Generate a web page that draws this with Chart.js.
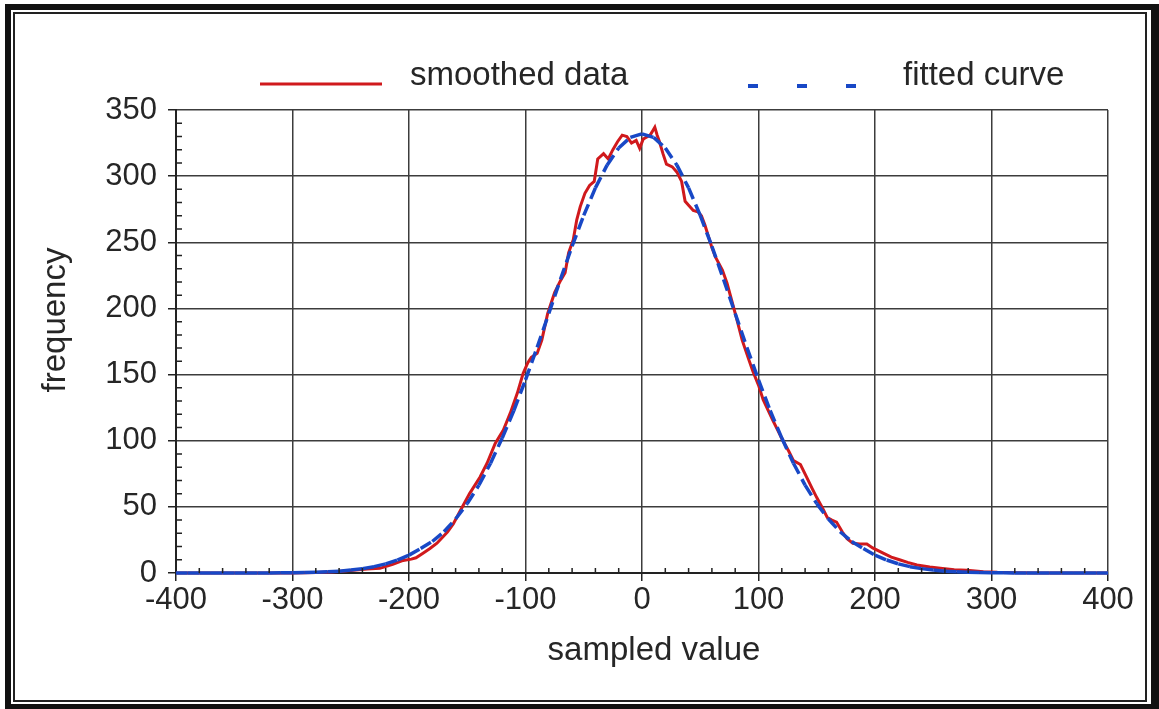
<!DOCTYPE html>
<html>
<head>
<meta charset="utf-8">
<title>frequency of sampled values</title>
<script src="https://cdn.jsdelivr.net/npm/chart.js@4.4.0/dist/chart.umd.min.js"></script>
<style>
  html, body { margin: 0; padding: 0; background: #fff; }
  #wrap { position: relative; width: 1159px; height: 709px; overflow: hidden; }
  #chart { position: absolute; left: 0; top: 0; }
  .frame { position: absolute; box-sizing: border-box; pointer-events: none; }
  #outer { left: 5px; top: 4px; width: 1154px; height: 705px; border: 6px solid #111; border-right-width: 8px; border-bottom-width: 5px; }
  #inner { left: 13px; top: 12px; width: 1134px; height: 690px; border: 2px solid #222; }
</style>
</head>
<body>
<div id="wrap">
  <canvas id="chart" width="1159" height="709"></canvas>
  <div class="frame" id="outer"></div>
  <div class="frame" id="inner"></div>
</div>
<script>
// smoothed histogram (irregular x where the wiggles are)
const smoothX = [-400, -300, -280, -266, -250, -236, -225, -214, -205, -198, -194, -188, -182, -176,
  -167, -162, -156, -148, -139, -133, -126, -119, -113, -107, -102, -98, -95, -90, -86, -81, -75,
  -70, -66, -63, -59, -56, -53, -49, -45, -41, -38, -33, -29, -25, -21, -17, -13, -9, -5, -2,
  1, 3, 7, 9, 11, 13, 15, 18, 21, 26, 30, 34, 37, 40, 44, 48, 51, 54, 60, 63, 69, 73, 77, 81,
  86, 91, 95, 100, 104, 112, 117, 121, 126, 130, 136, 141, 146, 150, 155, 159, 163, 167, 172,
  176, 181, 187, 193, 198, 207, 214, 221, 228, 236, 247, 258, 268, 279, 293, 305, 320, 340, 400];
const smoothY = [0, 0, 0.3, 0.8, 1.8, 3, 3.5, 6.5, 9.5, 10.5, 11.5, 15, 18.5, 22.5,
  31, 37, 47, 60, 72.6, 83, 98, 108, 121, 136, 151, 159, 163, 166, 176, 196, 212,
  221, 227, 242, 252, 267, 277, 287, 293, 296, 313, 317, 313, 320, 326, 331, 330, 325, 327, 321,
  328, 329, 331, 334, 337, 331, 326, 317, 309, 307, 303, 296, 281, 278, 274, 273, 270, 263, 246, 239, 229, 219, 206, 193,
  176, 163, 153, 142, 131, 116, 107, 100, 92, 85, 82, 73, 64, 57, 49, 42, 40, 38.5, 31,
  26, 22.5, 22, 22, 19, 15, 12, 10, 8, 6, 4.5, 3.5, 2.5, 2, 1, 0.5, 0.2, 0, 0];

// fitted normal curve, read every 10 from -400 to 400
const fitX = [];
for (let v = -400; v <= 400; v += 10) fitX.push(v);
const fitY = [
  0, 0, 0, 0, 0, 0, 0, 0, 0, 0.1,                               // -400 .. -310
  0.2, 0.3, 0.5, 0.9, 1.4, 2.2, 3.3, 4.8, 6.9, 9.8,             // -300 .. -210
  13.5, 18.5, 23.8, 31.2, 40.8, 52.4, 66.4, 83, 102, 122.8,     // -200 .. -110
  146, 170.6, 196.2, 222, 247, 270.3, 291.1, 308.3, 321.3, 329.3, // -100 .. -10
  332,                                                          // 0
  329.3, 321.3, 308.3, 291.1, 270.3, 247, 222, 196.2, 170.6, 146, // 10 .. 100
  122.8, 102, 83, 66.4, 52.4, 40.8, 31.2, 23.8, 18.5, 13.5,     // 110 .. 200
  9.8, 6.9, 4.8, 3.3, 2.2, 1.4, 0.9, 0.5, 0.3, 0.2,             // 210 .. 300
  0.1, 0, 0, 0, 0, 0, 0, 0, 0, 0                                // 310 .. 400
];

const xTicks = [-400, -300, -200, -100, 0, 100, 200, 300, 400];
const yTicks = [0, 50, 100, 150, 200, 250, 300, 350];

const seriesNames = ['smoothed data', 'fitted curve'];
const RED = '#d0191c';
const BLUE = '#1848c6';
const TEXT = '#262626';
const FONT = 'Liberation Sans, Arial, Helvetica, sans-serif';

const toPoints = (xs, ys) => xs.map((x, i) => ({ x: x, y: ys[i] }));

// minor ticks pointing into the plot, axis titles and the key row above
const extras = {
  id: 'extras',
  afterDraw(chart) {
    const ctx = chart.ctx;
    const xs = chart.scales.x, ys = chart.scales.y;
    const area = chart.chartArea;
    ctx.save();
    ctx.strokeStyle = '#222';
    ctx.lineWidth = 1.5;
    ctx.beginPath();
    for (let v = 10; v < 350; v += 10) {
      if (v % 50 === 0) continue;
      const py = ys.getPixelForValue(v);
      ctx.moveTo(area.left, py);
      ctx.lineTo(area.left + 6, py);
    }
    for (let v = -380; v < 400; v += 20) {
      if (v % 100 === 0) continue;
      const px = xs.getPixelForValue(v);
      ctx.moveTo(px, area.bottom);
      ctx.lineTo(px, area.bottom - 5);
    }
    ctx.stroke();

    ctx.fillStyle = TEXT;
    ctx.font = '33px ' + FONT;
    ctx.textAlign = 'center';
    ctx.textBaseline = 'alphabetic';
    ctx.fillText('sampled value', (area.left + area.right) / 2 + 12, 660);

    ctx.save();
    ctx.translate(65, 320);
    ctx.rotate(-Math.PI / 2);
    ctx.fillText('frequency', 0, 0);
    ctx.restore();

    // key
    ctx.textAlign = 'left';
    ctx.lineWidth = 3;
    ctx.strokeStyle = RED;
    ctx.beginPath();
    ctx.moveTo(260, 84);
    ctx.lineTo(382, 84);
    ctx.stroke();
    ctx.fillText(seriesNames[0], 410, 85);

    ctx.strokeStyle = BLUE;
    ctx.lineWidth = 4;
    ctx.beginPath();
    [748, 797, 846].forEach(x0 => {
      ctx.moveTo(x0, 86);
      ctx.lineTo(x0 + 10, 86);
    });
    ctx.stroke();
    ctx.fillText(seriesNames[1], 903, 85);
    ctx.restore();
  }
};

new Chart(document.getElementById('chart'), {
  type: 'scatter',
  data: {
    datasets: [
      {
        label: seriesNames[1],
        data: toPoints(fitX, fitY),
        showLine: true,
        borderColor: BLUE,
        borderWidth: 3.5,
        borderDash: [12, 6],
        // restart the dash on every segment: flat stretches stay solid
        segment: { borderDashOffset: c => (c.p0DataIndex % 2) * 0.01 },
        pointRadius: 0,
        tension: 0,
        clip: 6,
        order: 0
      },
      {
        label: seriesNames[0],
        data: toPoints(smoothX, smoothY),
        showLine: true,
        borderColor: RED,
        borderWidth: 3,
        pointRadius: 0,
        tension: 0,
        clip: 6,
        order: 1
      }
    ]
  },
  options: {
    responsive: false,
    animation: false,
    layout: { padding: { top: 110, right: 51, bottom: 0, left: 0 } },
    plugins: {
      legend: { display: false },
      tooltip: { enabled: false }
    },
    scales: {
      x: {
        type: 'linear',
        min: -400,
        max: 400,
        afterBuildTicks: s => { s.ticks = xTicks.map(v => ({ value: v })); },
        afterFit: s => { s.height = 136; },
        ticks: { font: { family: FONT, size: 31 }, color: TEXT, padding: 1, maxRotation: 0 },
        grid: { color: '#3c3c3c', lineWidth: 1.5, tickLength: 8, tickColor: '#222' },
        border: { color: '#222', width: 2 }
      },
      y: {
        min: 0,
        max: 350,
        afterBuildTicks: s => { s.ticks = yTicks.map(v => ({ value: v })); },
        afterFit: s => { s.width = 176; },
        ticks: { font: { family: FONT, size: 31 }, color: TEXT, padding: 11 },
        grid: { color: '#3c3c3c', lineWidth: 1.5, tickLength: 8, tickColor: '#222' },
        border: { color: '#222', width: 2 }
      }
    }
  },
  plugins: [extras]
});
</script>
</body>
</html>
